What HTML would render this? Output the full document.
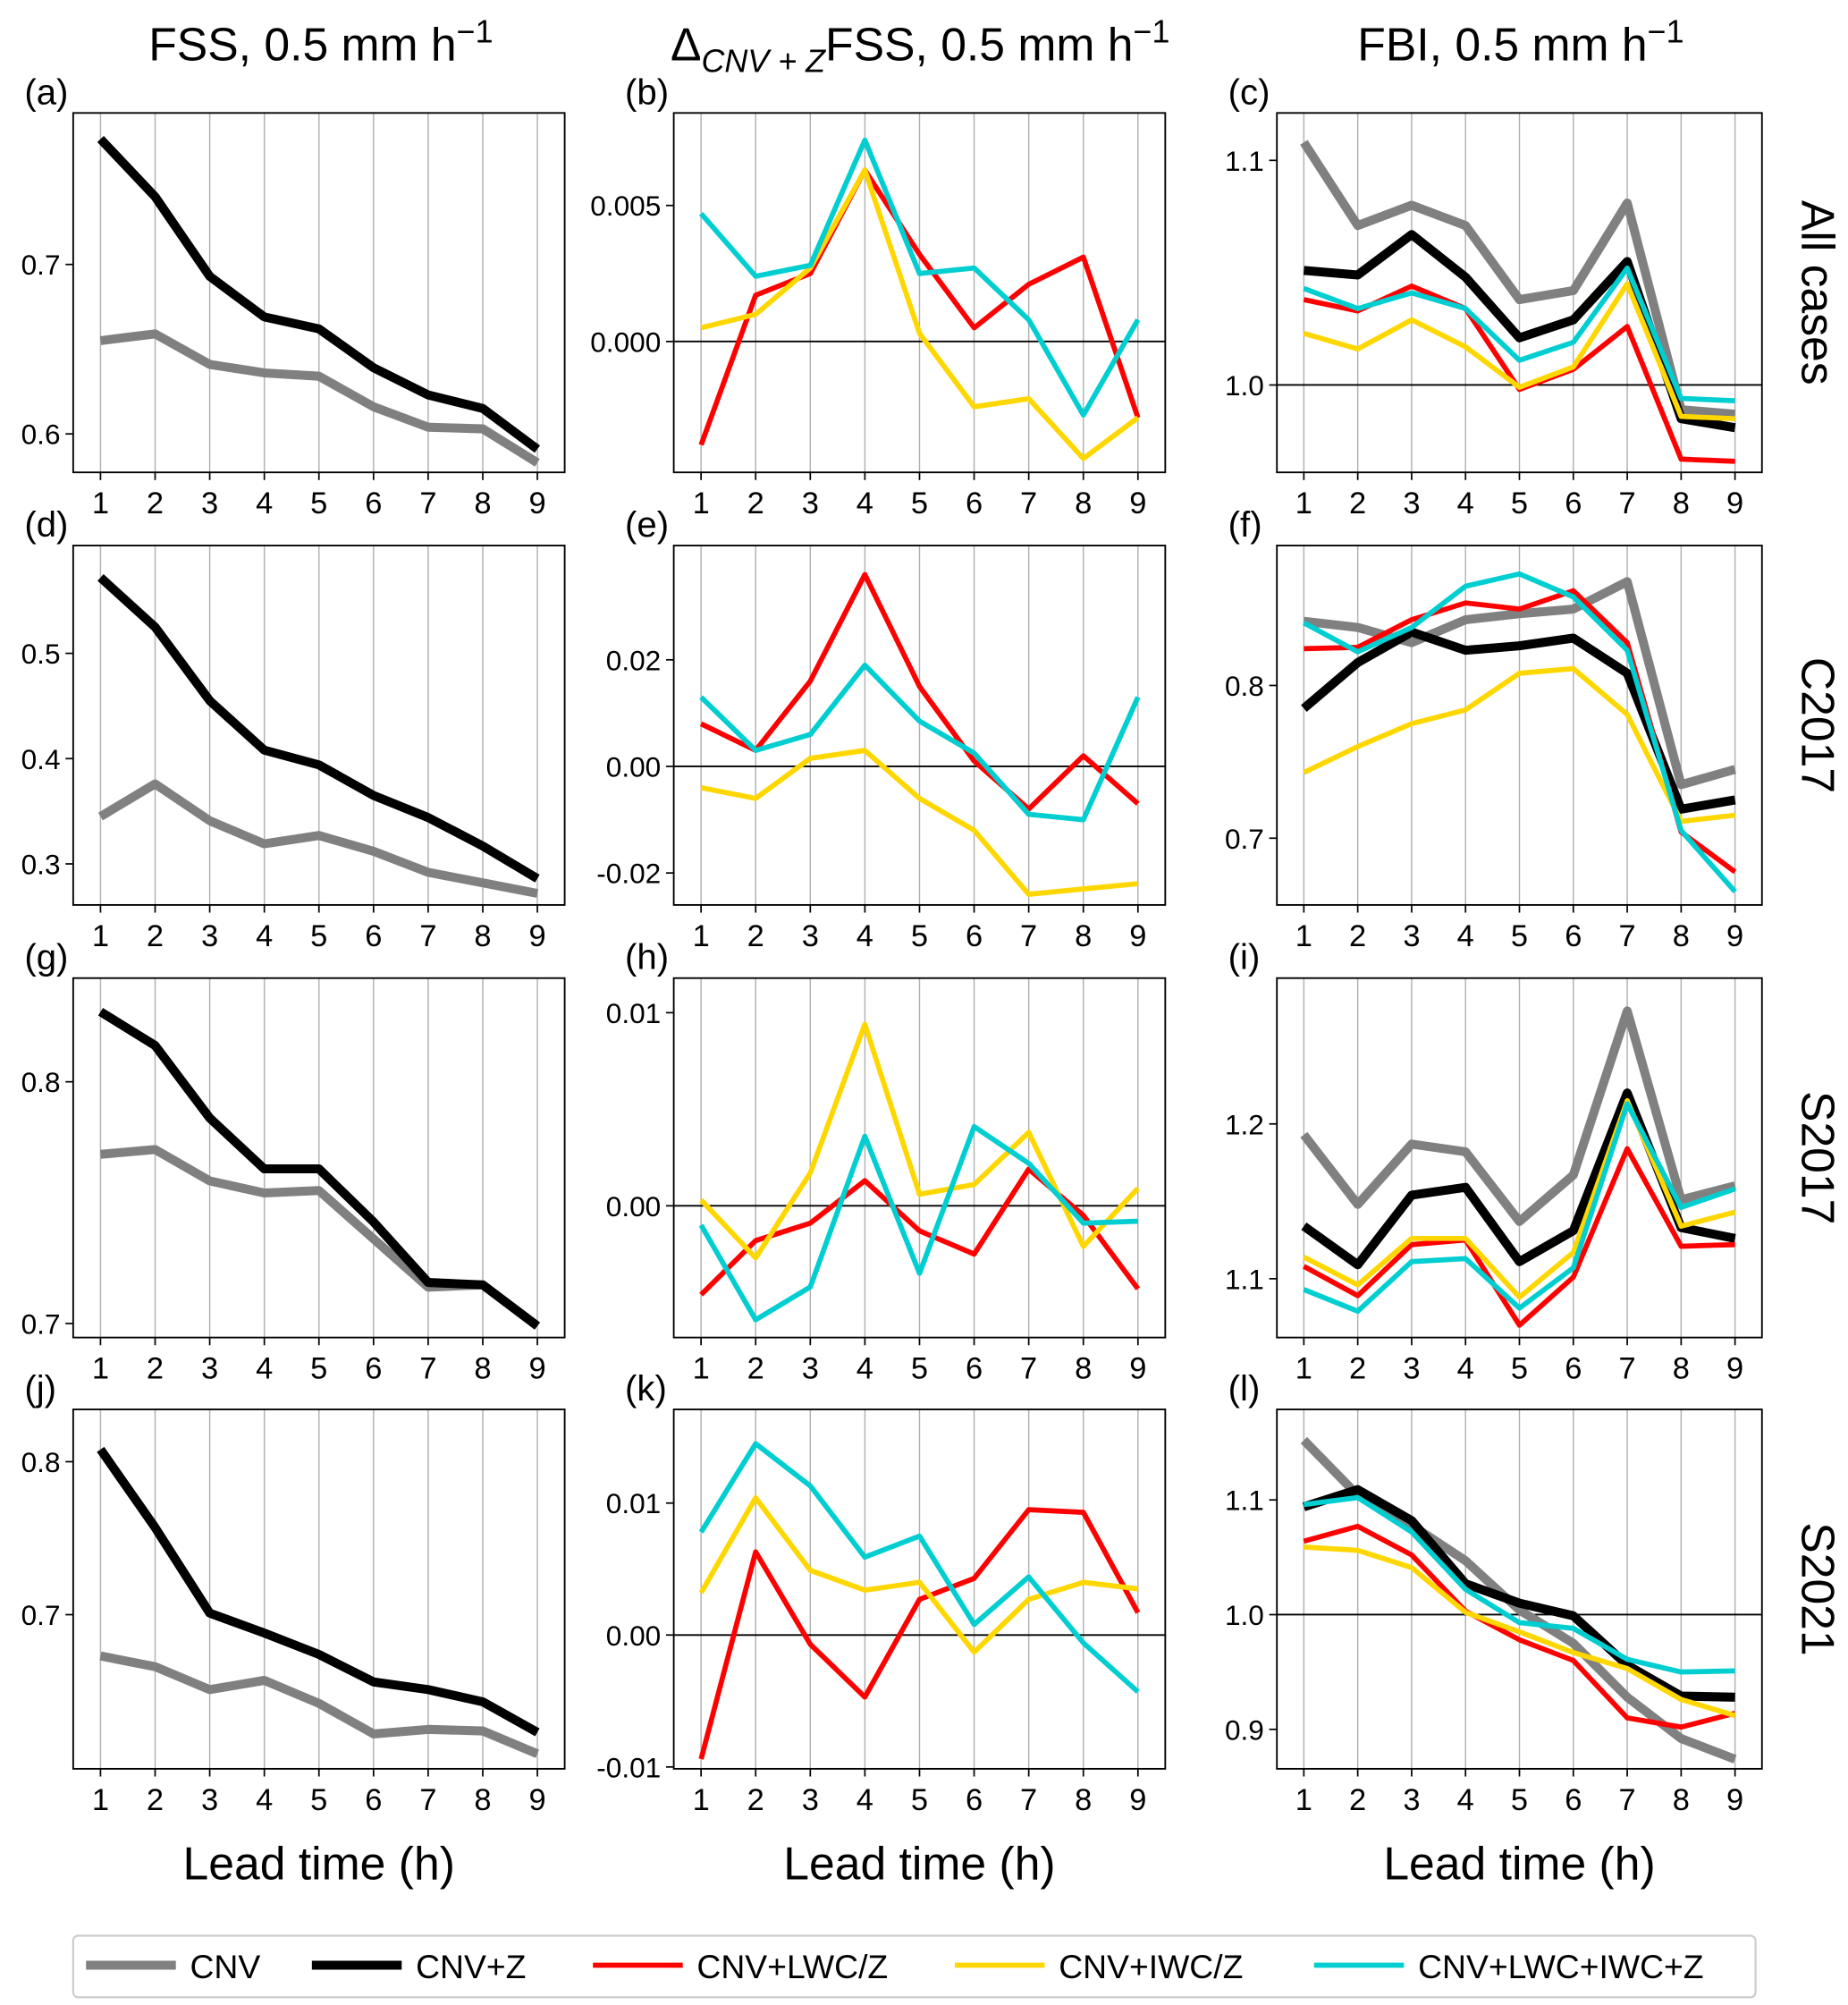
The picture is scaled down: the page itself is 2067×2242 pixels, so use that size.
<!DOCTYPE html>
<html><head><meta charset="utf-8"><style>
html,body{margin:0;padding:0;background:#fff}
svg{display:block}
text{font-family:"Liberation Sans",sans-serif;fill:#000}
</style></head><body>
<svg id="fig" width="2067" height="2242" viewBox="0 0 1440 1562" xmlns="http://www.w3.org/2000/svg">
<text x="250" y="47" font-size="36" text-anchor="middle">FSS, 0.5 mm h<tspan dy="-14" font-size="25">−1</tspan></text>
<text x="717" y="47" font-size="36" text-anchor="middle">Δ<tspan dy="9" font-size="25" font-style="italic">CNV + Z</tspan><tspan dy="-9">FSS, 0.5 mm h</tspan><tspan dy="-14" font-size="25">−1</tspan></text>
<text x="1185" y="47" font-size="36" text-anchor="middle">FBI, 0.5 mm h<tspan dy="-14" font-size="25">−1</tspan></text>
<g id="panels"></g>
<g>
<rect x="57" y="1508" width="1311" height="48" rx="4" fill="#fff" stroke="#ccc" stroke-width="1.5"/>
<line x1="67" y1="1531" x2="137" y2="1531" stroke="#808080" stroke-width="7"/><text x="148" y="1541" font-size="26">CNV</text>
<line x1="243" y1="1531" x2="313" y2="1531" stroke="#000" stroke-width="7"/><text x="324" y="1541" font-size="26">CNV+Z</text>
<line x1="462" y1="1531" x2="532" y2="1531" stroke="#ff0000" stroke-width="4"/><text x="543" y="1541" font-size="26">CNV+LWC/Z</text>
<line x1="744" y1="1531" x2="814" y2="1531" stroke="#ffd700" stroke-width="4"/><text x="825" y="1541" font-size="26">CNV+IWC/Z</text>
<line x1="1024" y1="1531" x2="1094" y2="1531" stroke="#00ced1" stroke-width="4"/><text x="1105" y="1541" font-size="26">CNV+LWC+IWC+Z</text>
</g>
</svg>
<script>
const leadTimes=[1,2,3,4,5,6,7,8,9];
const a_cnv=[0.655,0.659,0.641,0.636,0.634,0.616,0.604,0.603,0.583];
const a_z=[0.774,0.740,0.693,0.669,0.662,0.639,0.623,0.615,0.591];
const b_red=[-0.0038,0.0017,0.0025,0.0063,0.0032,0.0005,0.0021,0.0031,-0.0028];
const b_yel=[0.0005,0.0010,0.0027,0.0063,0.0003,-0.0024,-0.0021,-0.0043,-0.0028];
const b_cyn=[0.0047,0.0024,0.0028,0.0074,0.0025,0.0027,0.0008,-0.0027,0.0008];
const c_cnv=[1.108,1.071,1.080,1.071,1.038,1.042,1.081,0.989,0.987];
const c_z=[1.051,1.049,1.067,1.048,1.021,1.029,1.055,0.985,0.981];
const c_red=[1.038,1.033,1.044,1.034,0.998,1.007,1.026,0.967,0.966];
const c_yel=[1.023,1.016,1.029,1.017,0.999,1.008,1.045,0.986,0.985];
const c_cyn=[1.043,1.034,1.041,1.034,1.011,1.019,1.052,0.994,0.993];
const d_cnv=[0.345,0.376,0.341,0.319,0.327,0.312,0.292,0.282,0.272];
const d_z=[0.572,0.525,0.455,0.408,0.394,0.365,0.344,0.317,0.286];
const e_red=[0.008,0.003,0.016,0.036,0.015,0.001,-0.008,0.002,-0.007];
const e_yel=[-0.004,-0.006,0.0015,0.003,-0.006,-0.012,-0.024,-0.023,-0.022];
const e_cyn=[0.013,0.003,0.006,0.019,0.0085,0.0025,-0.009,-0.010,0.013];
const f_cnv=[0.842,0.838,0.828,0.843,0.847,0.850,0.868,0.735,0.745];
const f_z=[0.785,0.815,0.835,0.823,0.826,0.831,0.808,0.719,0.725];
const f_red=[0.824,0.825,0.843,0.854,0.850,0.862,0.828,0.704,0.678];
const f_yel=[0.743,0.760,0.775,0.784,0.808,0.811,0.781,0.711,0.715];
const f_cyn=[0.841,0.822,0.838,0.865,0.873,0.858,0.823,0.705,0.665];
const g_cnv=[0.770,0.772,0.759,0.754,0.755,0.735,0.715,0.716,0.699];
const g_z=[0.829,0.815,0.785,0.764,0.764,0.742,0.717,0.716,0.699];
const h_red=[-0.0046,-0.0018,-0.0009,0.0013,-0.0013,-0.0025,0.0019,-0.0005,-0.0043];
const h_yel=[0.0003,-0.0027,0.0017,0.0094,0.0006,0.0011,0.0038,-0.0021,0.0009];
const h_cyn=[-0.0010,-0.0059,-0.0042,0.0036,-0.0035,0.0041,0.0022,-0.0009,-0.0008];
const i_cnv=[1.193,1.148,1.187,1.182,1.137,1.167,1.273,1.151,1.160];
const i_z=[1.134,1.109,1.154,1.159,1.111,1.131,1.220,1.133,1.126];
const i_red=[1.108,1.089,1.122,1.125,1.070,1.101,1.184,1.121,1.122];
const i_yel=[1.114,1.096,1.126,1.126,1.088,1.117,1.215,1.134,1.143];
const i_cyn=[1.093,1.079,1.111,1.113,1.081,1.107,1.213,1.146,1.158];
const j_cnv=[0.673,0.666,0.651,0.657,0.642,0.622,0.625,0.624,0.609];
const j_z=[0.808,0.757,0.701,0.688,0.674,0.656,0.651,0.643,0.623];
const k_red=[-0.0094,0.0063,-0.0007,-0.0047,0.0027,0.0043,0.0095,0.0093,0.0017];
const k_yel=[0.0032,0.0104,0.0049,0.0034,0.0040,-0.0013,0.0027,0.0040,0.0035];
const k_cyn=[0.0078,0.0145,0.0113,0.0059,0.0075,0.0008,0.0044,-0.0006,-0.0043];
const l_cnv=[1.152,1.104,1.078,1.047,1.004,0.975,0.928,0.892,0.874];
const l_z=[1.094,1.109,1.082,1.027,1.010,0.999,0.956,0.929,0.928];
const l_red=[1.064,1.077,1.052,1.003,0.978,0.960,0.910,0.902,0.914];
const l_yel=[1.059,1.056,1.041,1.002,0.985,0.967,0.953,0.926,0.912];
const l_cyn=[1.096,1.102,1.072,1.022,0.993,0.988,0.961,0.950,0.951];
const a_ticks=[0.6,0.7], a_lbl=["0.6","0.7"];
const b_ticks=[0,0.005], b_lbl=["0.000","0.005"];
const c_ticks=[1.0,1.1], c_lbl=["1.0","1.1"];
const d_ticks=[0.3,0.4,0.5], d_lbl=["0.3","0.4","0.5"];
const e_ticks=[-0.02,0,0.02], e_lbl=["-0.02","0.00","0.02"];
const f_ticks=[0.7,0.8], f_lbl=["0.7","0.8"];
const g_ticks=[0.7,0.8], g_lbl=["0.7","0.8"];
const h_ticks=[0,0.01], h_lbl=["0.00","0.01"];
const i_ticks=[1.1,1.2], i_lbl=["1.1","1.2"];
const j_ticks=[0.7,0.8], j_lbl=["0.7","0.8"];
const k_ticks=[-0.01,0,0.01], k_lbl=["-0.01","0.00","0.01"];
const l_ticks=[0.9,1.0,1.1], l_lbl=["0.9","1.0","1.1"];

const NS="http://www.w3.org/2000/svg";
const root=document.getElementById('panels');
function mk(tag,attrs,parent){const e=document.createElementNS(NS,tag);for(const k in attrs)e.setAttribute(k,attrs[k]);(parent||root).appendChild(e);return e;}
const colX=[57,525,995], colW=[383,383,378];
const rowY=[88,425,762,1098], rowH=280;
const STY={cnv:['#808080',7],z:['#000',7],red:['#ff0000',4],yel:['#ffd700',4],cyn:['#00ced1',4]};
const panels=[
 ['a',0,0,[0.5773,0.7894],a_ticks,a_lbl,null,{cnv:a_cnv,z:a_z}],
 ['b',1,0,[-0.00481,0.0084],b_ticks,b_lbl,0,{red:b_red,yel:b_yel,cyn:b_cyn}],
 ['c',2,0,[0.9611,1.1211],c_ticks,c_lbl,1.0,{cnv:c_cnv,z:c_z,red:c_red,yel:c_yel,cyn:c_cyn}],
 ['d',0,1,[0.261,0.6024],d_ticks,d_lbl,null,{cnv:d_cnv,z:d_z}],
 ['e',1,1,[-0.026,0.04145],e_ticks,e_lbl,0,{red:e_red,yel:e_yel,cyn:e_cyn}],
 ['f',2,1,[0.6563,0.8916],f_ticks,f_lbl,null,{cnv:f_cnv,z:f_z,red:f_red,yel:f_yel,cyn:f_cyn}],
 ['g',0,2,[0.6942,0.8429],g_ticks,g_lbl,null,{cnv:g_cnv,z:g_z}],
 ['h',1,2,[-0.00682,0.01179],h_ticks,h_lbl,0,{red:h_red,yel:h_yel,cyn:h_cyn}],
 ['i',2,2,[1.062,1.2942],i_ticks,i_lbl,null,{cnv:i_cnv,z:i_z,red:i_red,yel:i_yel,cyn:i_cyn}],
 ['j',0,3,[0.5992,0.8342],j_ticks,j_lbl,null,{cnv:j_cnv,z:j_z}],
 ['k',1,3,[-0.01014,0.0171],k_ticks,k_lbl,0,{red:k_red,yel:k_yel,cyn:k_cyn}],
 ['l',2,3,[0.8656,1.1789],l_ticks,l_lbl,1.0,{cnv:l_cnv,z:l_z,red:l_red,yel:l_yel,cyn:l_cyn}],
];
const rowLabels=['All cases','C2017','S2017','S2021'];
panels.forEach(p=>{
 const [id,c,r,dom,ticks,lbls,ref,series]=p;
 const x0=colX[c],w=colW[c],y0=rowY[r],h=rowH;
 const xs=v=>x0+(v-0.5)/9*w;
 const ys=v=>y0+h-(v-dom[0])/(dom[1]-dom[0])*h;
 const g=mk('g',{});
 
 
 leadTimes.forEach(t=>{
  const gl=mk('line',{x1:xs(t),x2:xs(t),y1:y0,y2:y0+h,stroke:'#b0b0b0','stroke-width':1},g);
  
  
  mk('line',{x1:xs(t),x2:xs(t),y1:y0+h,y2:y0+h+6,stroke:'#000','stroke-width':1.2},g);
  const tl=mk('text',{x:xs(t),y:y0+h+32,'font-size':24,'text-anchor':'middle'},g);
  tl.textContent=t;
  
  
 });
 ticks.forEach((v,i)=>{
  mk('line',{x1:x0-6,x2:x0,y1:ys(v),y2:ys(v),stroke:'#000','stroke-width':1.2},g);
  const tl=mk('text',{x:x0-10,y:ys(v)+8,'font-size':22,'text-anchor':'end'},g);
  tl.textContent=lbls[i];
  
  
 });
 if(ref!==null){
  const rl=mk('line',{x1:x0,x2:x0+w,y1:ys(ref),y2:ys(ref),stroke:'#000','stroke-width':1.3},g);
  
  
 }
 ['cnv','z','red','yel','cyn'].forEach(k=>{
  if(!series[k])return;
  const pts=series[k].map((v,i)=>xs(leadTimes[i]).toFixed(1)+','+ys(v).toFixed(1)).join(' ');
  const pl=mk('polyline',{points:pts,fill:'none',stroke:STY[k][0],'stroke-width':STY[k][1],'stroke-linejoin':'round'},g);
  
  
 });
 const fr=mk('rect',{x:x0,y:y0,width:w,height:h,fill:'none',stroke:'#000','stroke-width':1.3},g);
 
 
 const pl=mk('text',{x:x0-38,y:y0-7,'font-size':28},g);
 pl.textContent='('+id+')';
 
 
 if(r===3){
  const xl=mk('text',{x:x0+w/2,y:y0+h+86,'font-size':36,'text-anchor':'middle'},g);
  xl.textContent='Lead time (h)';
  
  
 }
 if(c===2){
  const rl=mk('text',{x:0,y:0,'font-size':36,'text-anchor':'middle',transform:'translate(1404,'+(y0+h/2)+') rotate(90)'},g);
  rl.textContent=rowLabels[r];
  
  
 }
});
</script>
</body></html>
